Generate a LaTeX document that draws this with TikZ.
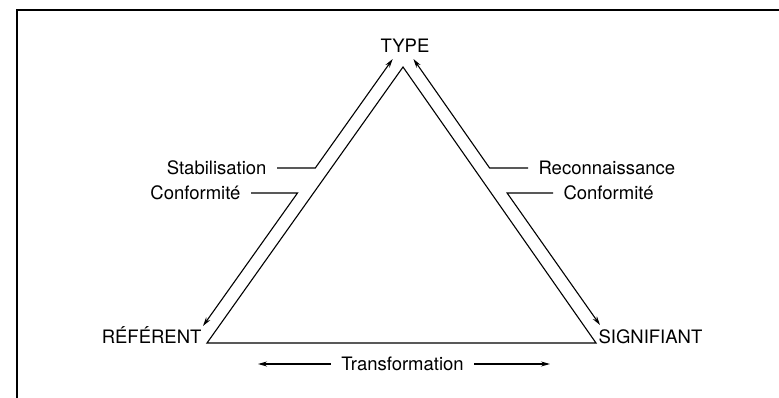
\documentclass[tikz,border=0pt]{standalone}
\usepackage{fontspec}
\setmainfont{TeX Gyre Heros}
\usetikzlibrary{arrows.meta,calc}
\tikzset{
	semiotic triangle/.style={
		x=1pt, y=1pt,
		line width=1.1pt,
		>={Stealth[length=9pt,width=5pt]},
		line join=miter},
	word/.style={font=\fontsize{18.5}{20}\selectfont, inner sep=0pt,
		text height=13.3pt, text depth=0pt},
	tag/.style={word, inner xsep=10pt},
	frame/.style={line width=2pt}
}

\begin{document}
\begin{tikzpicture}[semiotic triangle]
  \useasboundingbox (0,0) rectangle (779,398);
  \draw[frame] (17,0) -- (17,388) -- (779,388);
  \coordinate (top) at (403,331);
  \coordinate (bl) at (207,55);
  \coordinate (br) at (596,55);
  \draw (bl) -- (top) -- (br) -- cycle;
  \node [word] (type) at (405,352) {TYPE};
  \node [word, anchor=east] (ref) at (202,61) {RÉFÉRENT};
  \node [word, anchor=west] (sig) at (598,61) {SIGNIFIANT};
  \coordinate (typeL) at (392.7,339);
  \coordinate (typeR) at (413.4,339);
  \coordinate (refT) at (203,72);
  \coordinate (sigT) at (600,73);
  \node [tag, anchor=east] (stab) at (277,230) {Stabilisation};
  \coordinate (stabC) at (315.3,230);
  \node [tag, anchor=east] (confL) at (251,205) {Conformité};
  \coordinate (confLC) at (297.5,205);
  \node [tag, anchor=west] (reco) at (528,230) {Reconnaissance};
  \coordinate (recoC) at (489.6,230);
  \node [tag, anchor=west] (confR) at (553,205) {Conformité};
  \coordinate (confRC) at (507.1,205);
  \node [tag] (trans) at (402.5,34) {Transformation};
  \coordinate (transL) at (258,34);
  \coordinate (transR) at (550,34);
  \draw[->] (stab.east) -- (stabC) -- (typeL);
  \draw[->] (confL.east) -- (confLC) -- (refT);
  \draw[->] (reco.west) -- (recoC) -- (typeR);
  \draw[->] (confR.west) -- (confRC) -- (sigT);
  \draw[->] (trans.west) -- (transL);
  \draw[->] (trans.east) -- (transR);
\end{tikzpicture}
\end{document}
